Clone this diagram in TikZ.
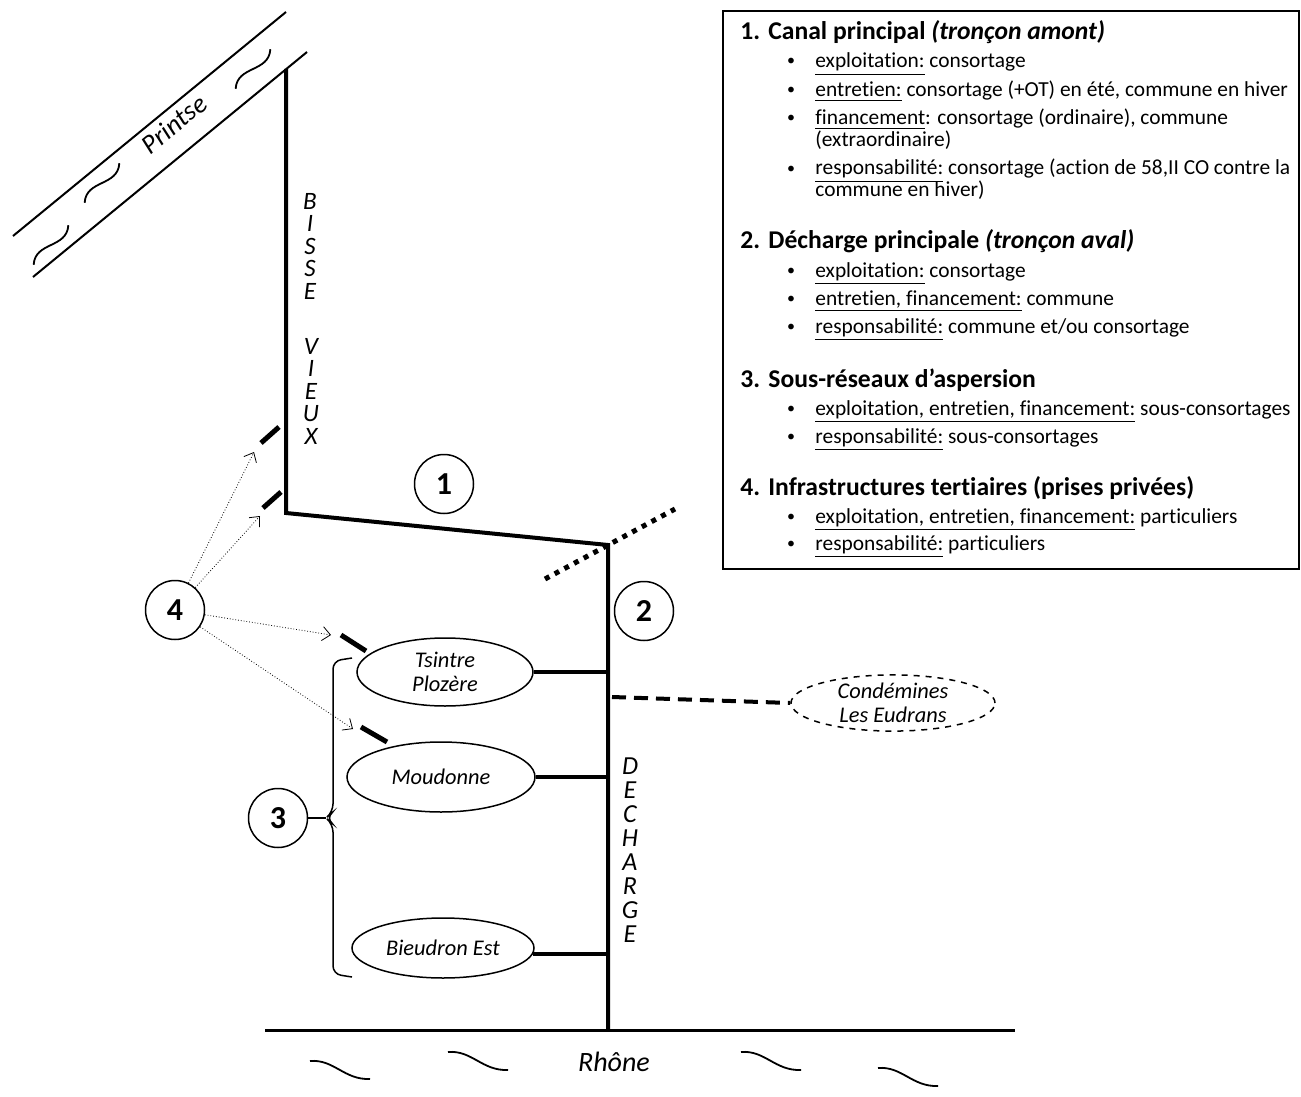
\documentclass[tikz,border=0pt]{standalone}
\usepackage{fontspec}
\setmainfont[Ligatures={NoCommon}]{Carlito}
\usepackage{tikz}
\usetikzlibrary{shapes.geometric,arrows.meta,positioning,calc}
\tikzstyle{canal}   = [line width=2pt]
\tikzstyle{riviere} = [line width=1pt]
\tikzstyle{prise}   = [line width=2.5pt]
\tikzstyle{numcirc} = [circle, draw, line width=0.75pt, minimum size=29.5pt,
                       inner sep=0pt, font=\fontsize{16}{16}\selectfont\bfseries]
\tikzstyle{reseau}  = [ellipse, draw, line width=0.75pt, inner sep=0pt,
                       align=center, font=\fontsize{11.2}{12}\selectfont\itshape]
\tikzstyle{vertlbl} = [align=center, inner sep=0pt,
                       font=\fontsize{12.5}{11.25}\selectfont\itshape]
\tikzstyle{ptarrow} = [densely dotted, line width=0.4pt,
                       -{Straight Barb[length=4pt,width=7pt]}]
\tikzstyle{leghead} = [anchor=base west, inner sep=0pt,
                       font=\fontsize{12.8}{14}\selectfont\bfseries]
\tikzstyle{legitem} = [anchor=base west, inner sep=0pt,
                       font=\fontsize{10.7}{13}\selectfont]
\tikzstyle{legbul}  = [anchor=base, inner sep=0pt,
                       font=\fontsize{8}{13}\selectfont]
\tikzset{
  tilde/.pic={\draw[line width=0.9pt] (-26,4) .. controls (-10,-13) and (10,13) .. (26,-4);},
  ride/.pic={\draw[line width=0.9pt] (-30,-9) .. controls (-6,-11) and (4,10) .. (30,9);}
}
\begin{document}
\begin{tikzpicture}[x=0.5pt, y=-0.5pt]
\useasboundingbox (0,0) rectangle (1301,1097);
% Printse
\draw[riviere] (13,236) -- (286,12);
\draw[riviere] (33,277) -- (307,52);
\node[rotate=39.4, font=\fontsize{13.5}{13.5}\selectfont\itshape] (printse) at (174,124) {Printse};
\pic[rotate=40] at (253,69) {tilde};
\pic[rotate=40] at (102,183) {tilde};
\pic[rotate=40] at (51,245) {tilde};
% Bisse Vieux et decharge
\coordinate (bisTop) at (286,69);
\coordinate (bisCoude) at (286,513);
\coordinate (decTop) at (608,545);
\coordinate (decBot) at (608,1030);
\draw[canal] (bisTop) -- (bisCoude) -- (decTop) -- (decBot);
\node[vertlbl] (bisse) at (310,246) {B\\I\\S\\S\\E};
\node[vertlbl] (vieux) at (311,391) {V\\I\\E\\U\\X};
\node[vertlbl, font=\fontsize{13}{12}\selectfont\itshape] (decharge) at (630,850)
  {D\\E\\C\\H\\A\\R\\G\\E};
% Rhone
\coordinate (rhoA) at (265,1030);
\coordinate (rhoB) at (1015,1030);
\draw[line width=1.5pt] (rhoA) -- (rhoB);
\node[font=\fontsize{14}{14}\selectfont\itshape] (rhone) at (614,1062) {Rhône};
\pic at (340,1070) {ride};
\pic at (478,1061) {ride};
\pic at (771,1061) {ride};
\pic at (908,1077) {ride};
% Numeros
\node[numcirc] (c1) at (444,484) {1};
\node[numcirc] (c2) at (644,611) {2};
\node[numcirc] (c3) at (278,818) {3};
\node[numcirc] (c4) at (175,610) {4};
% Sous-reseaux
\node[reseau, minimum width=88pt, minimum height=34pt] (tsin) at (445,672) {Tsintre\\Plozère};
\node[reseau, minimum width=94pt, minimum height=35pt] (moud) at (441,777) {Moudonne};
\node[reseau, minimum width=91pt, minimum height=30pt] (bieu) at (443,948) {Bieudron Est};
\node[reseau, dashed, minimum width=102pt, minimum height=28pt] (cond) at (893,703)
  {Condémines\\Les Eudrans};
\draw[canal] (tsin.east) -- (tsin.east -| decTop);
\draw[canal] (moud.east) -- (moud.east -| decTop);
\draw[canal] (bieu.-4) -- (bieu.-4 -| decTop);
\coordinate (decCond) at (612,697);
\draw[canal, dash pattern=on 7pt off 4pt] (decCond) -- (cond.west);
% Prise en travers
\coordinate (trvA) at (545,579);
\coordinate (trvB) at (675,509);
\draw[prise, dash pattern=on 2.5pt off 3pt] (trvA) -- (trvB);
% Accolade
\draw[line width=0.75pt, rounded corners=4pt] (352,658) -- (333,661) -- (333,812)
  -- (326,818) -- (333,824) -- (333,974) -- (352,977);
\draw[line width=0.75pt] (c3.east) -- (326,818);
% Prises privees
\draw[prise] (261,443) -- (279,427);
\draw[prise] (263,508) -- (281,492);
\draw[prise] (341,635) -- (366,651);
\draw[prise] (361,727) -- (387,742);
\coordinate (p1) at (254,452);
\coordinate (p2) at (260,516);
\coordinate (p3) at (331,635);
\coordinate (p4) at (353,729);
\draw[ptarrow] (c4) -- (p1);
\draw[ptarrow] (c4) -- (p2);
\draw[ptarrow] (c4) -- (p3);
\draw[ptarrow] (c4) -- (p4);
% Legende
\draw[line width=0.8pt] (723,11) rectangle (1299,569);
\node[leghead] (n1) at (740,40) {1.};
\node[leghead] (h1) at (768,40) {Canal principal \textit{(tronçon amont)}};
\node[leghead] (n2) at (740,248) {2.};
\node[leghead] (h2) at (768,248) {Décharge principale \textit{(tronçon aval)}};
\node[leghead] (n3) at (740,387) {3.};
\node[leghead] (h3) at (768,387) {Sous-réseaux d’aspersion};
\node[leghead] (n4) at (740,495) {4.};
\node[leghead] (h4) at (768,495) {Infrastructures tertiaires (prises privées)};
\foreach \y in {68,97,125,175,277,305,333,415,443,523,550}
  \node[legbul] (b\y) at (791,\y-2) {\textbullet};
\node[legitem] (i1a) at (815,68) {\underline{exploitation:} consortage};
\node[legitem] (i1b) at (815,97) {\underline{entretien:} consortage (+OT) en été, commune en hiver};
\node[legitem] (i1c) at (815,125) {\underline{financement}: consortage (ordinaire), commune};
\node[legitem] (i1d) at (815,147) {(extraordinaire)};
\node[legitem] (i1e) at (815,175) {\underline{responsabilité:} consortage (action de 58,II CO contre la};
\node[legitem] (i1f) at (815,197) {commune en hiver)};
\node[legitem] (i2a) at (815,277) {\underline{exploitation:} consortage};
\node[legitem] (i2b) at (815,305) {\underline{entretien, financement:} commune};
\node[legitem] (i2c) at (815,333) {\underline{responsabilité:} commune et/ou consortage};
\node[legitem] (i3a) at (815,415) {\underline{exploitation, entretien, financement:} sous-consortages};
\node[legitem] (i3b) at (815,443) {\underline{responsabilité:} sous-consortages};
\node[legitem] (i4a) at (815,523) {\underline{exploitation, entretien, financement:} particuliers};
\node[legitem] (i4b) at (815,550) {\underline{responsabilité:} particuliers};
\end{tikzpicture}
\end{document}
